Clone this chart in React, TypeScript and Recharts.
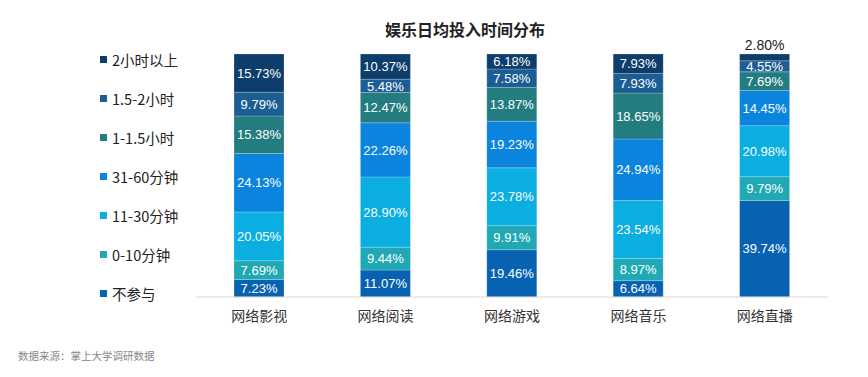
import { BarChart, Bar, XAxis, YAxis, LabelList, Legend } from 'recharts';

const categories = ['网络影视', '网络阅读', '网络游戏', '网络音乐', '网络直播'];

const seriesNames = ['不参与', '0-10分钟', '11-30分钟', '31-60分钟', '1-1.5小时', '1.5-2小时', '2小时以上'];
const seriesColors = ['#0862b2', '#20a9b4', '#0aaee0', '#0a84dc', '#237d80', '#1c5e94', '#0d3d6b'];

const none = [7.23, 11.07, 19.46, 6.64, 39.74];
const min0to10 = [7.69, 9.44, 9.91, 8.97, 9.79];
const min11to30 = [20.05, 28.9, 23.78, 23.54, 20.98];
const min31to60 = [24.13, 22.26, 19.23, 24.94, 14.45];
const hr1to15 = [15.38, 12.47, 13.87, 18.65, 7.69];
const hr15to2 = [9.79, 5.48, 7.58, 7.93, 4.55];
const hr2plus = [15.73, 10.37, 6.18, 7.93, 2.8];

const seriesValues = [none, min0to10, min11to30, min31to60, hr1to15, hr15to2, hr2plus];

const data = categories.map((name, i) => {
  const row: Record<string, string | number> = { name };
  seriesNames.forEach((s, j) => {
    row[s] = seriesValues[j][i];
  });
  return row;
});

const numFont = '"Liberation Sans", Arial, "Noto Sans CJK SC", sans-serif';
const cjkFont = '"Noto Sans CJK SC", "Liberation Sans", sans-serif';

const makeLabel = (values: number[]) => (props: any) => {
  const { x, y, width, height, index } = props;
  const v = values[index];
  const small = v < 3.5;
  return (
    <text
      x={x + width / 2}
      y={small ? y - 4 : y + height / 2}
      dy={small ? 0 : '0.36em'}
      textAnchor="middle"
      fill={small ? '#222' : '#fff'}
      fontSize={small ? 14 : 13}
      fontFamily={numFont}
    >
      {v.toFixed(2)}%
    </text>
  );
};

const renderLegend = () => (
  <div style={{ position: 'absolute', left: 100, top: 0 }}>
    {seriesNames
      .slice()
      .reverse()
      .map((s, k) => {
        const color = seriesColors[seriesNames.length - 1 - k];
        return (
          <div
            key={s}
            style={{
              position: 'absolute',
              left: 0,
              top: 49 + k * 39,
              display: 'flex',
              alignItems: 'center',
              whiteSpace: 'nowrap',
              fontSize: 14.5,
              fontFamily: cjkFont,
              color: '#222',
              height: 20,
            }}
          >
            <span style={{ width: 7, height: 7, background: color, marginRight: 5, display: 'inline-block' }} />
            {s}
          </div>
        );
      })}
  </div>
);

export default function App() {
  return (
    <div style={{ position: 'absolute', left: 0, top: 0, width: 868, height: 377, background: '#fff' }}>
      <div
        style={{
          position: 'absolute',
          left: 0,
          width: 930,
          top: 17,
          textAlign: 'center',
          fontSize: 16,
          fontWeight: 'bold',
          fontFamily: cjkFont,
          color: '#222',
        }}
      >
        娱乐日均投入时间分布
      </div>
      <BarChart
        width={868}
        height={377}
        data={data}
        stackOffset="expand"
        margin={{ top: 54, right: 40, left: 196, bottom: 50 }}
      >
        <XAxis
          dataKey="name"
          height={30}
          tickLine={false}
          axisLine={{ stroke: '#d9d9d9' }}
          tick={{ fill: '#333', fontSize: 14, fontFamily: cjkFont }}
          dy={6}
        />
        <YAxis hide domain={[0, 1]} />
        <Legend content={renderLegend} wrapperStyle={{ position: 'absolute', left: 0, top: 0, width: 0, height: 0 }} />
        {seriesNames.map((s, j) => (
          <Bar
            key={s}
            dataKey={s}
            stackId="a"
            fill={seriesColors[j]}
            barSize={50}
            stroke="rgba(255,255,255,0.35)"
            strokeWidth={0.6}
            isAnimationActive={false}
          >
            <LabelList dataKey={s} content={makeLabel(seriesValues[j])} />
          </Bar>
        ))}
      </BarChart>
      <div
        style={{
          position: 'absolute',
          left: 18,
          top: 348,
          fontSize: 10.5,
          fontFamily: cjkFont,
          color: '#888',
        }}
      >
        数据来源：掌上大学调研数据
      </div>
    </div>
  );
}
